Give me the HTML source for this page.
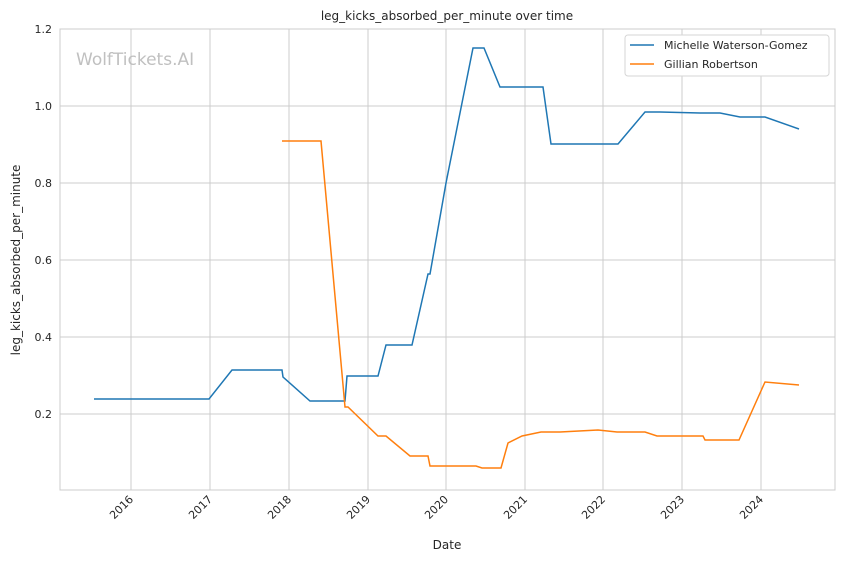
<!DOCTYPE html>
<html><head><meta charset="utf-8"><style>body{margin:0;background:#fff}svg{display:block;font-family:"DejaVu Sans","Liberation Sans",sans-serif}</style></head><body>
<svg width="844" height="561" xmlns="http://www.w3.org/2000/svg">
<rect width="844" height="561" fill="#fff"/>
<g stroke="#cccccc" stroke-width="1">
<line x1="131" y1="29" x2="131" y2="490"/><line x1="210" y1="29" x2="210" y2="490"/><line x1="289" y1="29" x2="289" y2="490"/><line x1="368" y1="29" x2="368" y2="490"/><line x1="446" y1="29" x2="446" y2="490"/><line x1="525" y1="29" x2="525" y2="490"/><line x1="603" y1="29" x2="603" y2="490"/><line x1="682" y1="29" x2="682" y2="490"/><line x1="761" y1="29" x2="761" y2="490"/>
<line x1="60" y1="106" x2="835" y2="106"/><line x1="60" y1="183" x2="835" y2="183"/><line x1="60" y1="260" x2="835" y2="260"/><line x1="60" y1="337" x2="835" y2="337"/><line x1="60" y1="414" x2="835" y2="414"/>
</g>
<rect x="60" y="29" width="775" height="461" fill="none" stroke="#cccccc" stroke-width="1"/>
<text x="76" y="65" font-size="17" fill="#c0c0c0">WolfTickets.AI</text>
<polyline fill="none" stroke="#1f77b4" stroke-width="1.5" points="94,399 209,399 232,370 282,370 283,377 310,401 345,401 347,376 378,376 386,345 412,345 428,274 430,274 446,183 473,48 484,48 500,87 543,87 551,144 618,144 645,112 660,112 700,113 720,113 740,117 765,117 799,129"/>
<polyline fill="none" stroke="#ff7f0e" stroke-width="1.5" points="282,141 321,141 345,407 348,407 378,436 386,436 410,456 428,456 430,466 476,466 482,468 501,468 508,443 522,436 541,432 560,432 598,430 617,432 645,432 657,436 703,436 705,440 719,440 739,440 765,382 799,385"/>
<g font-size="11" fill="#262626" text-anchor="end">
<text x="52" y="33">1.2</text><text x="52" y="110">1.0</text><text x="52" y="187">0.8</text><text x="52" y="264">0.6</text><text x="52" y="341">0.4</text><text x="52" y="418">0.2</text>
</g>
<g font-size="11" fill="#262626" text-anchor="end">
<text transform="translate(134,500) rotate(-45)">2016</text><text transform="translate(213,500) rotate(-45)">2017</text><text transform="translate(292,500) rotate(-45)">2018</text><text transform="translate(371,500) rotate(-45)">2019</text><text transform="translate(449,500) rotate(-45)">2020</text><text transform="translate(528,500) rotate(-45)">2021</text><text transform="translate(606,500) rotate(-45)">2022</text><text transform="translate(685,500) rotate(-45)">2023</text><text transform="translate(764,500) rotate(-45)">2024</text>
</g>
<text x="447" y="549" font-size="12" fill="#262626" text-anchor="middle">Date</text>
<text transform="translate(20,260) rotate(-90)" font-size="12" fill="#262626" text-anchor="middle">leg_kicks_absorbed_per_minute</text>
<text x="447" y="20" font-size="12" fill="#262626" text-anchor="middle">leg_kicks_absorbed_per_minute over time</text>
<rect x="625" y="35" width="204" height="41" rx="3" fill="#fff" stroke="#d6d6d6"/>
<line x1="630" y1="45" x2="654" y2="45" stroke="#1f77b4" stroke-width="1.5"/>
<line x1="630" y1="64" x2="654" y2="64" stroke="#ff7f0e" stroke-width="1.5"/>
<text x="664" y="49" font-size="11" fill="#262626">Michelle Waterson-Gomez</text>
<text x="664" y="68" font-size="11" fill="#262626">Gillian Robertson</text>
</svg>
</body></html>
